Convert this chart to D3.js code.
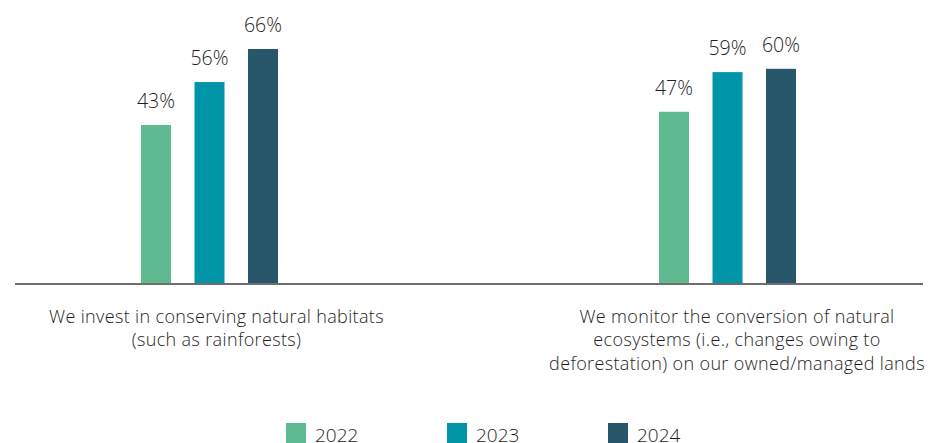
<!DOCTYPE html>
<html>
<head>
<meta charset="utf-8">
<script src="https://cdn.jsdelivr.net/npm/d3@7"></script>
<style>
  html, body { margin: 0; padding: 0; background: #fff; }
  svg { display: block; }
  text { font-family: "Open Sans", "Noto Sans", sans-serif; fill: #1e1e1e; }
</style>
</head>
<body>
<div id="chart"></div>
<script>
const categories = [
  ["We invest in conserving natural habitats", "(such as rainforests)"],
  ["We monitor the conversion of natural", "ecosystems (i.e., changes owing to", "deforestation) on our owned/managed lands"]
];
const years = ["2022", "2023", "2024"];
const values2022 = [43, 47];
const values2023 = [56, 59];
const values2024 = [66, 60];
const colors = ["#5fbb8f", "#0095a9", "#28576b"];

const seriesValues = [values2022, values2023, values2024];
const W = 934, H = 443;
const baseY = 284;

const svg = d3.select("#chart").append("svg").attr("width", W).attr("height", H);

const catIdx = categories.map((d, i) => i);
const x0 = d3.scaleBand().domain(catIdx).range([-49.5, 986.5]).padding(0);
const x1 = d3.scalePoint().domain(years).range([-53.5, 53.5]);
const barW = 30;
const y = d3.scaleLinear().domain([-5.15, 66]).range([baseY, 49]);

const rows = [];
catIdx.forEach(ci => years.forEach((yr, si) => rows.push({ci, yr, si, v: seriesValues[si][ci]})));

const cx = d => x0(d.ci) + x0.bandwidth() / 2 + x1(d.yr);

svg.selectAll("rect.bar").data(rows).enter().append("rect")
  .attr("class", "bar")
  .attr("x", d => cx(d) - barW / 2)
  .attr("width", barW)
  .attr("y", d => y(d.v))
  .attr("height", d => baseY - y(d.v))
  .attr("fill", d => colors[d.si]);

svg.selectAll("text.val").data(rows).enter().append("text")
  .attr("class", "val")
  .attr("x", d => cx(d))
  .attr("y", d => y(d.v) - 17)
  .attr("text-anchor", "middle")
  .style("font-size", "19.5px")
  .style("font-weight", 300)
  .text(d => d.v + "%");

svg.append("line")
  .attr("x1", 15).attr("x2", 923)
  .attr("y1", baseY).attr("y2", baseY)
  .attr("stroke", "#6e6e6e").attr("stroke-width", 2);

const labelOffsets = [7, 9.5];
catIdx.forEach(ci => {
  const t = svg.append("text")
    .attr("text-anchor", "middle")
    .style("font-size", "18px")
    .style("letter-spacing", "0.35px")
    .style("font-weight", 300);
  categories[ci].forEach((line, li) => {
    t.append("tspan")
      .attr("x", x0(ci) + x0.bandwidth() / 2 + labelOffsets[ci])
      .attr("y", 322.5 + li * 23.5)
      .text(line);
  });
});

const legendX = d3.scalePoint().domain(years).range([286, 608]);
const lg = svg.selectAll("g.leg").data(years).enter().append("g")
  .attr("class", "leg")
  .attr("transform", d => `translate(${legendX(d)},423)`);
lg.append("rect").attr("width", 20).attr("height", 20).attr("fill", (d, i) => colors[i]);
lg.append("text").attr("x", 29).attr("y", 18.5)
  .style("font-size", "19px").style("font-weight", 300)
  .text(d => d);
</script>
</body>
</html>
